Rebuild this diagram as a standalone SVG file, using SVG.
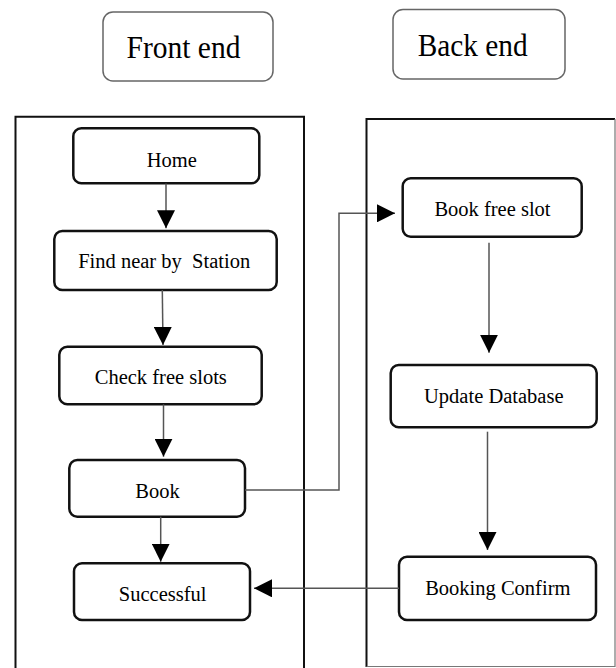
<svg xmlns="http://www.w3.org/2000/svg" width="616" height="668" viewBox="0 0 616 668">
<style>
.hdr{fill:#fff;stroke:#666;stroke-width:1.5}
.hdrt{font-size:31px;fill:#000}
.node{fill:#fff;stroke:#111;stroke-width:2.5}
.nt{font-size:20.5px;fill:#000;text-anchor:middle;white-space:pre}
.lane{fill:none;stroke:#111;stroke-width:2}
.conn{fill:none;stroke:#555;stroke-width:1.5}
</style>
<defs>
<marker id="ah" markerUnits="userSpaceOnUse" markerWidth="18" markerHeight="18" viewBox="0 0 18 18" refX="18" refY="9" orient="auto">
<path d="M0,0 L18,9 L0,18 z" fill="#000"/>
</marker>
</defs>
<rect width="616" height="668" fill="#fff"/>
<g font-family="Liberation Serif, Tinos, Times New Roman, DejaVu Serif, serif">
<g id="front-end-header">
<rect class="hdr" x="103" y="12" width="170" height="69" rx="10"/>
<text class="hdrt" x="126.5" y="58" textLength="114" lengthAdjust="spacingAndGlyphs">Front end</text>
</g>
<g id="back-end-header">
<rect class="hdr" x="393" y="9.5" width="172" height="69.5" rx="10"/>
<text class="hdrt" x="417.7" y="56" textLength="110" lengthAdjust="spacingAndGlyphs">Back end</text>
</g>
<g id="front-lane">
<path class="lane" d="M15.5,670 L15.5,116.7 L304,116.7 L304,670"/>
</g>
<g id="back-lane">
<path class="lane" d="M366.5,667 L366.5,119 L615,119"/>
<path fill="none" stroke="#777" stroke-width="1.2" d="M615,119 L615,666.5 L366.5,666.5"/>
</g>
<g id="home">
<rect class="node" x="73.3" y="128.3" width="186" height="55" rx="8"/>
<text class="nt" x="171.7" y="166.7">Home</text>
</g>
<g id="find-station">
<rect class="node" x="54.3" y="231" width="222.4" height="59" rx="8"/>
<text class="nt" x="164.2" y="268">Find near by  Station</text>
</g>
<g id="check-slots">
<rect class="node" x="59.3" y="346.7" width="202.4" height="57.6" rx="8"/>
<text class="nt" x="160.8" y="384.3">Check free slots</text>
</g>
<g id="book">
<rect class="node" x="69.3" y="460" width="175.7" height="56.7" rx="8"/>
<text class="nt" x="157.5" y="498.3">Book</text>
</g>
<g id="successful">
<rect class="node" x="74" y="563.3" width="176" height="56.7" rx="8"/>
<text class="nt" x="162.7" y="600.7">Successful</text>
</g>
<g id="book-free-slot">
<rect class="node" x="402.7" y="178.3" width="179" height="58.4" rx="8"/>
<text class="nt" x="492.5" y="216">Book free slot</text>
</g>
<g id="update-database">
<rect class="node" x="390.7" y="365" width="206" height="62.3" rx="8"/>
<text class="nt" x="493.8" y="403.3">Update Database</text>
</g>
<g id="booking-confirm">
<rect class="node" x="399" y="556.7" width="197" height="63.3" rx="8"/>
<text class="nt" x="497.8" y="595">Booking Confirm</text>
</g>
</g>
<g id="connectors">
<path class="conn" marker-end="url(#ah)" d="M166,183.5 L166,228.3"/>
<path class="conn" marker-end="url(#ah)" d="M162.3,290 L163,345"/>
<path class="conn" marker-end="url(#ah)" d="M163.5,404.3 L163.5,456.7"/>
<path class="conn" marker-end="url(#ah)" d="M160.7,516.7 L160.7,561.7"/>
<path class="conn" marker-end="url(#ah)" d="M245,490 L339,490 L339,213.3 L395,213.3"/>
<path class="conn" marker-end="url(#ah)" d="M489,242.7 L489,352.7"/>
<path class="conn" marker-end="url(#ah)" d="M487.5,431.7 L487.5,550"/>
<path class="conn" marker-end="url(#ah)" d="M399,588.3 L254,588.3"/>
</g>
</svg>
